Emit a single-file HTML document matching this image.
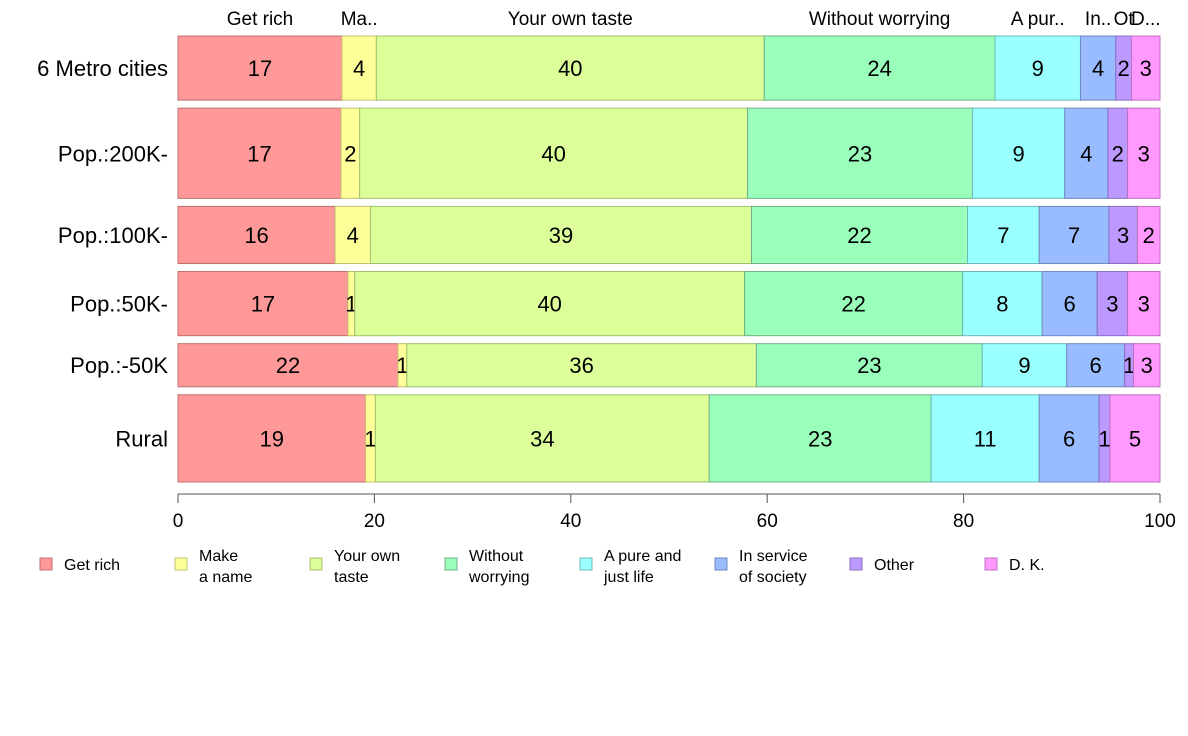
<!DOCTYPE html>
<html><head><meta charset="utf-8"><style>
body{margin:0;background:#fff;font-family:"Liberation Sans",Arial,sans-serif}
svg{display:block}
</style></head><body>
<svg id="chart" width="1188" height="736" viewBox="0 0 1188 736" xmlns="http://www.w3.org/2000/svg"></svg>
<script>
const categories=["6 Metro cities","Pop.:200K-","Pop.:100K-","Pop.:50K-","Pop.:-50K","Rural"];
const rowWeights=[64,90,57,64,43,87];
const seriesNames=["Get rich","Make a name","Your own taste","Without worrying","A pure and just life","In service of society","Other","D. K."];
const legendLines=[["Get rich"],["Make","a name"],["Your own","taste"],["Without","worrying"],["A pure and","just life"],["In service","of society"],["Other"],["D. K."]];
const topLabels=["Get rich","Ma..","Your own taste","Without worrying","A pur..","In..","Ot","D..."];
const values=[
[16.7,3.5,39.5,23.5,8.7,3.6,1.6,2.9],
[16.6,1.9,39.5,22.9,9.4,4.4,2.0,3.3],
[16.0,3.6,38.8,22.0,7.3,7.1,2.9,2.3],
[17.3,0.7,39.7,22.2,8.1,5.6,3.1,3.3],
[22.4,0.9,35.6,23.0,8.6,5.9,0.9,2.7],
[19.1,1.0,34.0,22.6,11.0,6.1,1.1,5.1]];
const xTicks=[0,20,40,60,80,100];
const fills=["#ff9999","#ffff99","#ddff99","#99ffbb","#99ffff","#99bbff","#bb99ff","#ff99ff"];
const strokes=["#c07070","#c0c070","#a0c070","#70b088","#70b8b8","#7088c0","#8870c0","#c070c0"];

const svg=document.getElementById('chart');
const NS="http://www.w3.org/2000/svg";
const x0=178,x1=1160,yTop=36,yBot=482,gap=8;
const xs=v=>x0+(x1-x0)*v/100;
function mk(tag,attrs,parent){const e=document.createElementNS(NS,tag);for(const k in attrs)e.setAttribute(k,attrs[k]);(parent||svg).appendChild(e);return e;}
const totalW=rowWeights.reduce((a,b)=>a+b,0);
const avail=yBot-yTop-gap*(categories.length-1);
let y=yTop;
const rowY=[];
categories.forEach((cat,r)=>{
  const h=avail*rowWeights[r]/totalW;
  rowY.push([y,h]);
  const g=mk('g',{});
  
  
  let cum=0;
  values[r].forEach((v,s)=>{
    const a=xs(cum),b=xs(cum+v);
    const rect=mk('rect',{x:a,y:y,width:b-a,height:h,fill:fills[s],stroke:strokes[s],'stroke-width':1},g);
    
    
    const t=mk('text',{x:(a+b)/2,y:y+h/2+8,'text-anchor':'middle','font-size':22,fill:'#000'},g);
    
    
    t.textContent=Math.round(v);
    cum+=v;
  });
  const lab=mk('text',{x:168,y:y+h/2+8,'text-anchor':'end','font-size':22,fill:'#000'});
  
  
  lab.textContent=cat;
  y+=h+gap;
});
// top labels
let cum=0;
values[0].forEach((v,s)=>{
  const t=mk('text',{x:(xs(cum)+xs(cum+v))/2,y:25,'text-anchor':'middle','font-size':19,fill:'#000'});
  
  
  t.textContent=topLabels[s];
  cum+=v;
});
// axis
const ax=mk('line',{x1:x0,x2:x1,y1:494,y2:494,stroke:'#555','stroke-width':1});


xTicks.forEach(v=>{
  const tk=mk('line',{x1:xs(v),x2:xs(v),y1:494,y2:503,stroke:'#555'});
  
  
  const t=mk('text',{x:xs(v),y:527,'text-anchor':'middle','font-size':19,fill:'#000'});
  
  
  t.textContent=v;
});
// legend
legendLines.forEach((lines,i)=>{
  const bx=40+135*i;
  const g=mk('g',{});
  
  
  mk('rect',{x:bx,y:558,width:12,height:12,fill:fills[i],stroke:strokes[i]},g);
  lines.forEach((ln,k)=>{
    const t=mk('text',{x:bx+24,y:lines.length===1?570:(561+k*21),'font-size':16,fill:'#000'},g);
    t.textContent=ln;
  });
});
</script>
</body></html>
